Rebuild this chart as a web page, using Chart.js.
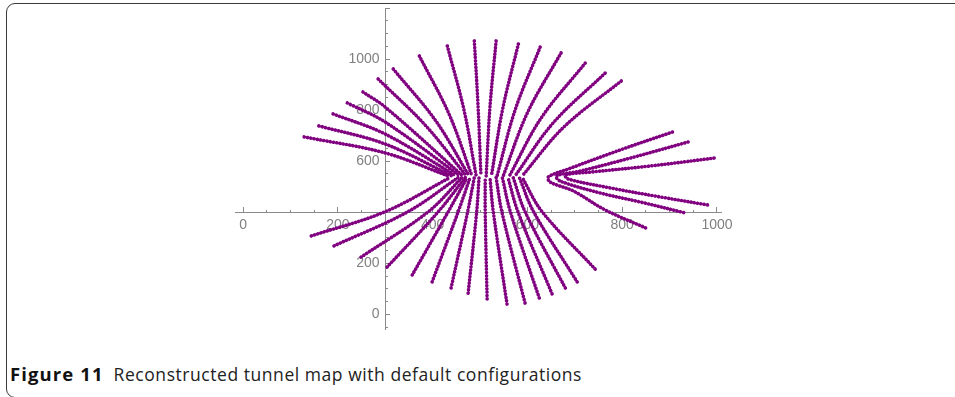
<!DOCTYPE html>
<html>
<head>
<meta charset="utf-8">
<script src="https://cdn.jsdelivr.net/npm/chart.js@4.4.0/dist/chart.umd.min.js"></script>
<style>
    html, body { margin: 0; padding: 0; background: #fff; width: 955px; height: 397px; overflow: hidden; }
    #frame { position: absolute; left: 6px; top: 3px; width: 1000px; height: 395px; border: 1px solid #3a3a3a; border-radius: 9px; box-sizing: border-box; }
    #plot { position: absolute; left: 0; top: -30px; }
    #caption { position: absolute; left: 10px; top: 361px; font-family: 'Open Sans', sans-serif; font-size: 17.5px; letter-spacing: 0.55px; color: #222; white-space: nowrap; }
    #caption b { font-weight: 700; font-size: 18.5px; letter-spacing: 1.1px; color: #111; margin-right: 10px; }
</style>
</head>
<body>
<div id="frame"></div>
<canvas id="plot" width="955" height="390"></canvas>
<div id="caption"><b>Figure 11</b>Reconstructed tunnel map with default configurations</div>
<script>
// Rays of the upper fan, outer end -> waist, [x, y]
const upperRays = [
    [[129, 695], [300, 632], [433, 542]],
    [[160, 738], [300, 667], [441, 542]],
    [[190, 785], [300, 706], [450, 542]],
    [[220, 828], [300, 753], [458, 542]],
    [[253, 871], [300, 812], [464, 542]],
    [[285, 922], [386, 738], [471, 542]],
    [[317, 961], [407, 757], [477, 542]],
    [[372, 1012], [435, 783], [483, 542]],
    [[431, 1051], [466, 802], [492, 542]],
    [[488, 1071], [496, 812], [502, 542]],
    [[534, 1071], [521, 812], [513, 542]],
    [[581, 1059], [548, 806], [524, 542]],
    [[627, 1047], [574, 800], [536, 542]],
    [[671, 1024], [600, 789], [549, 542]],
    [[722, 984], [629, 769], [562, 542]],
    [[764, 945], [654, 749], [574, 542]],
    [[798, 914], [677, 734], [589, 542]]
];

// Rays of the lower fan, outer end -> waist
const lowerRays = [
    [[144, 307], [300, 402], [437, 536]],
    [[192, 268], [348, 402], [454, 536]],
    [[249, 224], [391, 402], [462, 536]],
    [[304, 185], [412, 402], [469, 536]],
    [[357, 154], [433, 402], [473, 536]],
    [[399, 127], [454, 402], [479, 536]],
    [[439, 103], [474, 402], [488, 536]],
    [[475, 83], [493, 402], [498, 536]],
    [[515, 60], [511, 402], [511, 536]],
    [[557, 40], [528, 402], [521, 536]],
    [[595, 44], [546, 402], [534, 536]],
    [[625, 64], [564, 402], [547, 536]],
    [[652, 80], [580, 402], [559, 536]],
    [[680, 103], [595, 402], [570, 536]],
    [[705, 127], [613, 402], [583, 536]],
    [[743, 177], [631, 402], [589, 536]]
];

// Curves opening to the right, upper arm -> vertex -> lower arm
const rightCurves = [
    [[906, 714], [796, 644], [686, 569], [644, 538], [648, 518], [697, 483], [764, 409], [855, 334]],
    [[939, 675], [817, 612], [711, 561], [661, 542], [669, 522], [754, 475], [838, 440], [933, 397]],
    [[994, 612], [859, 581], [733, 557], [680, 546], [686, 530], [775, 495], [880, 460], [982, 428]]
];

const xTickLabels = [0, 200, 400, 600, 800, 1000];
const yTickLabels = [0, 200, 600, 800, 1000];

const rayColor = '#800080';
const axisColor = '#8a8a8a';
const labelColor = '#808080';
const tickFont = { family: "'Liberation Sans', Arial, sans-serif", size: 14 };
const xRange = { min: -17, max: 1010 };
const yRange = { min: -60, max: 1200 };

function stepTicks(from, to, step) {
    const ticks = [];
    for (let v = from; v <= to; v += step) ticks.push({ value: v });
    return ticks;
}

// an axis that only draws tick marks along the line x = 300 / y = 400
function tickAxis(axis, values, len, withBorder) {
    const pos = axis === 'x' ? { y: 400 } : { x: 300 };
    return {
        type: 'linear', axis: axis, ...(axis === 'x' ? xRange : yRange), position: pos,
        afterBuildTicks: a => { a.ticks = values; },
        grid: { drawOnChartArea: false, tickLength: len, tickColor: axisColor },
        border: withBorder ? { color: axisColor, width: 1 } : { display: false },
        ticks: { display: false }
    };
}

const datasets = upperRays.concat(lowerRays, rightCurves).map(ray => ({
    data: ray.map(p => ({ x: p[0], y: p[1] })),
    showLine: true,
    borderColor: rayColor,
    borderWidth: 3.6,
    borderCapStyle: 'round',
    borderDash: [0.1, 3.2],
    pointRadius: 0,
    tension: 0.35,
    fill: false
}));

new Chart(document.getElementById('plot'), {
    type: 'scatter',
    data: { datasets: datasets },
    options: {
        responsive: false,
        animation: false,
        layout: { padding: { left: 235, right: 233.3, top: 38, bottom: 30.4 } },
        plugins: { legend: { display: false }, tooltip: { enabled: false } },
        scales: {
            x: tickAxis('x', stepTicks(0, 1000, 50), -3, true),
            xMajor: {
                type: 'linear', axis: 'x', ...xRange, position: { y: 400 },
                afterBuildTicks: a => { a.ticks = xTickLabels.map(v => ({ value: v })); },
                grid: { drawOnChartArea: false, tickLength: -5, tickColor: axisColor },
                border: { display: false },
                ticks: { color: labelColor, font: tickFont, padding: 10, autoSkip: false, maxRotation: 0, callback: v => String(v) }
            },
            y: tickAxis('y', stepTicks(-50, 1200, 50), -3, true),
            yMajor: tickAxis('y', stepTicks(0, 1200, 200), -5, false),
            // labels sit a few pixels left of the axis line
            yLabels: {
                type: 'linear', axis: 'y', ...yRange, position: { x: 288 },
                afterBuildTicks: a => { a.ticks = yTickLabels.map(v => ({ value: v })); },
                grid: { display: false },
                border: { display: false },
                ticks: { color: labelColor, font: tickFont, autoSkip: false, callback: v => String(v) }
            }
        }
    }
});
</script>
</body>
</html>
